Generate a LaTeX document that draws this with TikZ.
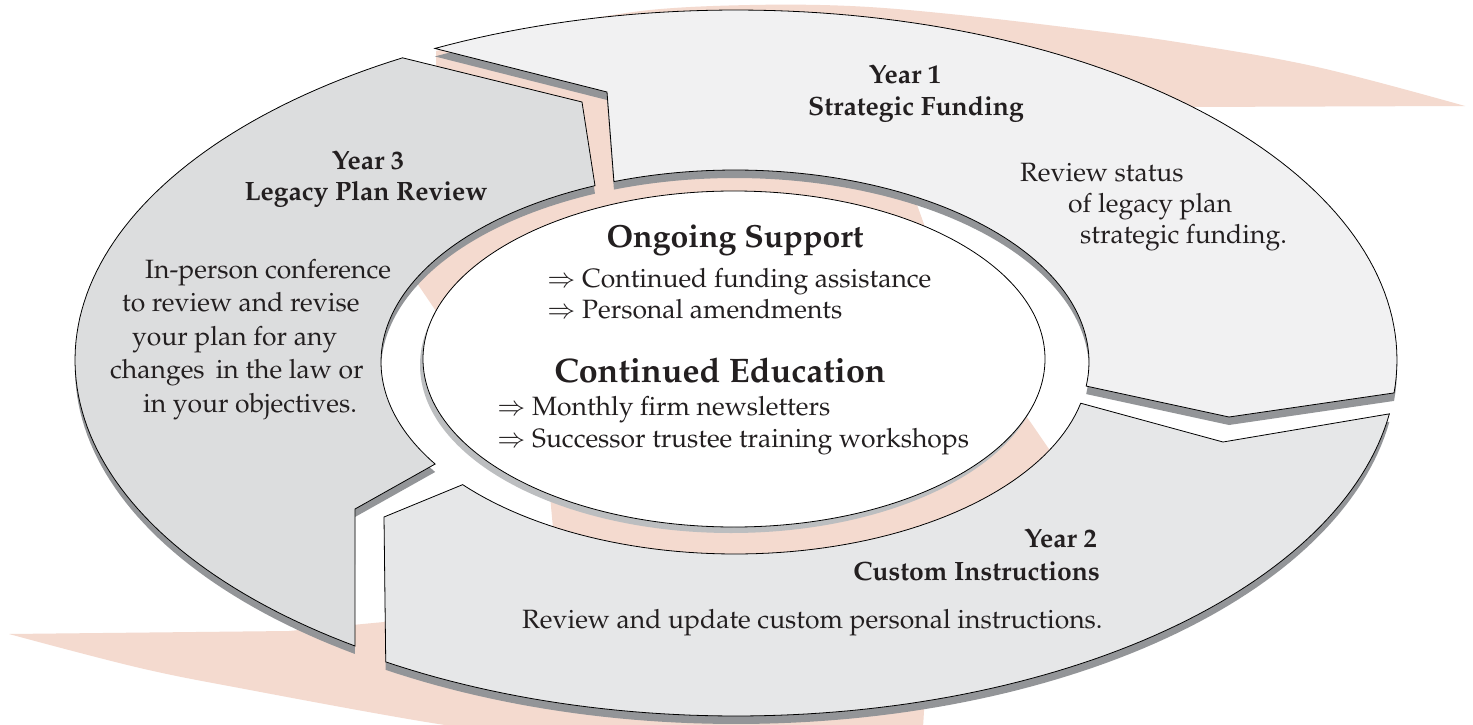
\documentclass[tikz,border=0pt]{standalone}
\usepackage[T1]{fontenc}
\usepackage{mathpazo}
\definecolor{pinkc}{HTML}{F4DACF}
\definecolor{shad}{HTML}{939598}
\definecolor{ishad}{HTML}{BCBEC0}
\definecolor{fone}{HTML}{F1F1F2}
\definecolor{ftwo}{HTML}{E6E7E8}
\definecolor{fthree}{HTML}{DCDDDE}
\definecolor{txt}{HTML}{231F20}
\newcommand\pathYone{plot[domain=-117.1:5.4,samples=90] ({736+661*cos(\x)},{360+350*sin(\x)}) -- (1229,417) -- plot[domain=7.2:-110,samples=70] ({735+354*cos(\x)},{362+192*sin(\x)}) -- (607,92) -- cycle}
\newcommand\pathYtwo{plot[domain=8.7:122,samples=90] ({736+661*cos(\x)},{360+356*sin(\x)}) -- (384,517) -- plot[domain=140.3:12.4,samples=70] ({735+354*cos(\x)},{362+192*sin(\x)}) -- (1223,442) -- cycle}
\newcommand\pathYthree{plot[domain=125.2:239.7,samples=90] ({736+661*cos(\x)},{360+350*sin(\x)}) -- (582,102) -- plot[domain=246.7:147.9,samples=70] ({735+354*cos(\x)},{362+192*sin(\x)}) -- (355,509) -- cycle}
\begin{document}
\begin{tikzpicture}[x=1pt,y=-1pt,
  seg/.style={draw=black, line width=0.8pt, line join=miter},
  txtn/.style={inner sep=0pt, text=txt, font=\fontsize{26.5}{33}\selectfont},
  hbold/.style={inner sep=0pt, text=txt, font=\fontsize{26.5}{33}\selectfont\bfseries},
  hbig/.style={inner sep=0pt, text=txt, font=\fontsize{32}{38}\selectfont\bfseries}]
\useasboundingbox (0,0) rectangle (1473,725);
\clip (0,0) rectangle (1473,725);
\fill[white] (0,0) rectangle (1473,725);
% pink swoosh
\fill[pinkc] (436,51) -- (560,24) -- plot[smooth, tension=0.6] coordinates {(560,24) (650,10) (750,5) (850,6) (950,14) (1080,29) (1183,43) (1317,67) (1465,106)} -- (1185,107) -- (1090,125) -- (1000,150) -- (903,166) -- (938,263) -- (735,250) -- (600,260) -- (455,339) -- (404,264) -- (500,150) -- (436,70) -- cycle;
\fill[pinkc] (9,634) -- (289,631) -- (384,622) -- (474,575) -- (556,560) -- (549,485) -- (740,495) -- (880,480) -- (1018,404) -- (1062,468) -- (1000,600) -- (925,695) -- (921,760) -- plot[smooth, tension=0.6] coordinates {(921,760) (700,768) (560,742) (420,721) (250,690) (140,668) (9,634)} -- cycle;
% shadows
\fill[shad, shift={(0,8)}] \pathYone;
\fill[shad, shift={(0,8)}] \pathYtwo;
\fill[shad, shift={(0,8)}] \pathYthree;
% segments
\filldraw[seg, fill=fone] \pathYone;
\filldraw[seg, fill=ftwo] \pathYtwo;
\filldraw[seg, fill=fthree] \pathYthree;
% inner ellipse
\fill[ishad] (731,365) ellipse [x radius=311pt, y radius=168pt];
\filldraw[seg, fill=white] (734,359) ellipse [x radius=311pt, y radius=168pt];
% texts
\node[hbold, anchor=base] (y1a) at (905,84) {Year 1};
\node[hbold, anchor=base] (y1b) at (916,115) {Strategic Funding};
\node[txtn, anchor=base west] (y1c) at (1020,181) {Review status};
\node[txtn, anchor=base west] (y1d) at (1068,212) {of legacy plan};
\node[txtn, anchor=base west] (y1e) at (1080,243) {strategic funding.};
\node[hbold, anchor=base] (y3a) at (368,169) {Year 3};
\node[hbold, anchor=base] (y3b) at (366,200) {Legacy Plan Review};
\node[txtn, anchor=base west] (y3c) at (145,278) {In-person conference};
\node[txtn, anchor=base west] (y3d) at (122,311) {to review and revise};
\node[txtn, anchor=base west] (y3e) at (132,345) {your plan for any};
\node[txtn, anchor=base west] (y3f) at (110,378) {changes\, in the law or};
\node[txtn, anchor=base west] (y3g) at (143,412) {in your objectives.};
\node[hbig, anchor=base] (os) at (735,247) {Ongoing Support};
\node[txtn, anchor=base west] (b1) at (547,287) {$\Rightarrow$ Continued funding assistance};
\node[txtn, anchor=base west] (b2) at (547,318) {$\Rightarrow$ Personal amendments};
\node[hbig, anchor=base, font=\fontsize{34}{40}\selectfont\bfseries] (ce) at (720,382) {Continued Education};
\node[txtn, anchor=base west] (b3) at (497,415) {$\Rightarrow$ Monthly firm newsletters};
\node[txtn, anchor=base west] (b4) at (497,447) {$\Rightarrow$ Successor trustee training workshops};
\node[hbold, anchor=base east] (y2a) at (1097,547) {Year 2};
\node[hbold, anchor=base east] (y2b) at (1100,580) {Custom Instructions};
\node[txtn, anchor=base west] (y2c) at (522,628) {Review and update custom personal instructions.};
\end{tikzpicture}
\end{document}
